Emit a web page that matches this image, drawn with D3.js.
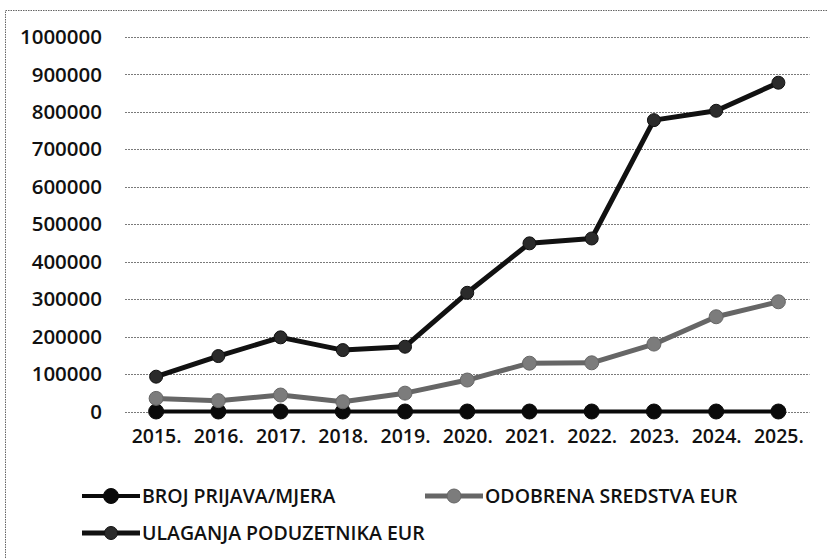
<!DOCTYPE html>
<html>
<head>
<meta charset="utf-8">
<script src="https://cdn.jsdelivr.net/npm/d3@7"></script>
<style>
  body { margin: 0; background: #fff; }
  text { font-family: "Open Sans", sans-serif; fill: #111; }
</style>
</head>
<body>
<div class="chart"></div>
<script>
var width = 827,
    height = 559;

var years = ["2015.", "2016.", "2017.", "2018.", "2019.", "2020.", "2021.", "2022.", "2023.", "2024.", "2025."];
var brojPrijava = [0, 0, 0, 0, 0, 0, 0, 0, 0, 0, 0];
var odobrenaSredstva = [35000, 29000, 44000, 26000, 49000, 84000, 129000, 130000, 180000, 253000, 293000];
var ulaganjaPoduzetnika = [93000, 148000, 198000, 164000, 173000, 317000, 449000, 462000, 778000, 803000, 878000];
var yTicks = [0, 100000, 200000, 300000, 400000, 500000, 600000, 700000, 800000, 900000, 1000000];
var seriesNames = ["BROJ PRIJAVA/MJERA", "ODOBRENA SREDSTVA EUR", "ULAGANJA PODUZETNIKA EUR"];

var series = [
  {name: seriesNames[0], values: brojPrijava, line: "#0a0a0a", dot: "#0a0a0a", lw: 4, r: 7.5},
  {name: seriesNames[1], values: odobrenaSredstva, line: "#666", dot: "#7c7c7c", lw: 5, r: 7},
  {name: seriesNames[2], values: ulaganjaPoduzetnika, line: "#111", dot: "#2b2b2b", lw: 5, r: 6.5}
];

var svg = d3.select(".chart")
    .append("svg")
    .attr("width", width)
    .attr("height", height);

// outer chart frame (dotted, cropped at right/bottom)
svg.append("rect")
    .attr("x", 5.5)
    .attr("y", 10.5)
    .attr("width", 840)
    .attr("height", 570)
    .attr("fill", "none")
    .attr("stroke", "#666")
    .attr("stroke-width", 1)
    .attr("stroke-dasharray", "1.5,1");

var x = d3.scalePoint()
    .domain(years)
    .range([125, 809.5])
    .padding(0.5);

var y = d3.scaleLinear()
    .domain([0, 1000000])
    .range([411.5, 37]);

// gridlines
svg.append("g")
    .selectAll("line")
    .data(yTicks)
    .enter()
    .append("line")
    .attr("x1", 125)
    .attr("x2", 809.5)
    .attr("y1", function(d){ return Math.round(y(d)) + 0.5; })
    .attr("y2", function(d){ return Math.round(y(d)) + 0.5; })
    .attr("stroke", "#7a7a7a")
    .attr("stroke-width", 1)
    .attr("stroke-dasharray", "2,1");

// y axis labels
var yAxis = d3.axisLeft(y).tickValues(yTicks).tickSize(0).tickPadding(0).tickFormat(d3.format("d"));
svg.append("g")
    .attr("transform", "translate(102,0)")
    .call(yAxis)
    .call(function(g){ g.select(".domain").remove(); })
    .selectAll("text")
    .attr("font-family", "Open Sans")
    .attr("font-size", "20.5px")
    .attr("font-weight", 600)
    .attr("fill", "#111");

// x axis labels
var xAxis = d3.axisBottom(x).tickSize(0).tickPadding(0);
svg.append("g")
    .attr("transform", "translate(0,429)")
    .call(xAxis)
    .call(function(g){ g.select(".domain").remove(); })
    .selectAll("text")
    .attr("font-family", "Open Sans")
    .attr("font-size", "19.5px")
    .attr("font-weight", 600)
    .attr("fill", "#111");

var line = d3.line()
    .x(function(d, i){ return x(years[i]); })
    .y(function(d){ return y(d); });

series.forEach(function(s){
  var g = svg.append("g");
  g.append("path")
      .datum(s.values)
      .attr("d", line)
      .attr("fill", "none")
      .attr("stroke", s.line)
      .attr("stroke-width", s.lw)
      .attr("stroke-linejoin", "round");
  g.selectAll("circle")
      .data(s.values)
      .enter()
      .append("circle")
      .attr("cx", function(d, i){ return x(years[i]); })
      .attr("cy", function(d){ return y(d); })
      .attr("r", s.r)
      .attr("fill", s.dot)
      .attr("stroke", s.line)
      .attr("stroke-width", 1);
});

// legend
var legendPos = [[82, 496], [425, 496], [82, 533]];
series.forEach(function(s, i){
  var lg = svg.append("g")
      .attr("transform", "translate(" + legendPos[i][0] + "," + legendPos[i][1] + ")");
  lg.append("line")
      .attr("x1", 0).attr("x2", 58)
      .attr("y1", 0).attr("y2", 0)
      .attr("stroke", s.line)
      .attr("stroke-width", s.lw);
  lg.append("circle")
      .attr("cx", 29).attr("cy", 0)
      .attr("r", s.r)
      .attr("fill", s.dot)
      .attr("stroke", s.line);
  lg.append("text")
      .attr("x", 60)
      .attr("y", 0)
      .attr("dy", "0.35em")
      .attr("font-size", "19.5px")
      .attr("font-weight", 600)
      .text(s.name);
});
</script>
</body>
</html>
